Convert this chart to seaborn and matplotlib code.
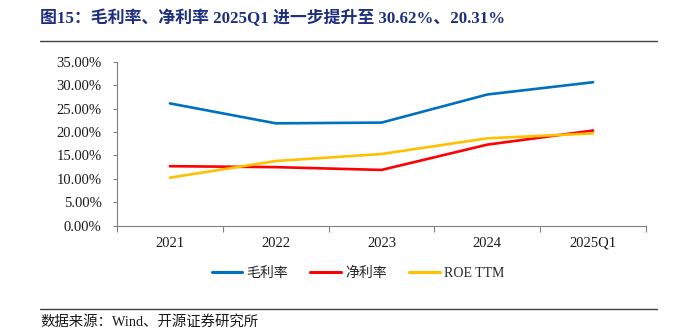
import matplotlib
matplotlib.use("Agg")
import matplotlib.pyplot as plt
import matplotlib.lines as mlines
import seaborn as sns
import pandas as pd
from matplotlib.ticker import FixedLocator, NullFormatter, FuncFormatter

# Data
periods = ["2021", "2022", "2023", "2024", "2025Q1"]
gross_margin = [26.1, 21.85, 22.0, 28.0, 30.62]
net_margin = [12.7, 12.5, 11.9, 17.3, 20.31]
roe_ttm = [10.25, 13.8, 15.3, 18.65, 19.7]
series_names = ["毛利率", "净利率", "ROE TTM"]
series_colors = ["#0070C0", "#FF0000", "#FFC000"]
y_ticks = [0, 5, 10, 15, 20, 25, 30, 35]

title_text = "图15：毛利率、净利率 2025Q1 进一步提升至 30.62%、20.31%"
source_text = "数据来源：Wind、开源证券研究所"

sns.set_theme(style="white")
plt.rcParams["font.family"] = ["Liberation Serif", "Noto Sans CJK SC"]
plt.rcParams["axes.unicode_minus"] = False

df = pd.DataFrame({
    "period": periods * 3,
    "value": gross_margin + net_margin + roe_ttm,
    "series": [series_names[0]] * 5 + [series_names[1]] * 5 + [series_names[2]] * 5,
})

fig = plt.figure(figsize=(6.79, 3.36), dpi=100)
ax = fig.add_axes([117 / 679, 1 - 225.7 / 336, 529 / 679, 164 / 336])

sns.lineplot(data=df, x="period", y="value", hue="series",
             palette=dict(zip(series_names, series_colors)),
             linewidth=1.9, ax=ax, legend=False, sort=False)

ax.set_xlim(-0.5, 4.5)
ax.set_ylim(0, 35)
ax.set_xlabel("")
ax.set_ylabel("")

# Category boundaries carry the tick marks; labels sit between them
ax.xaxis.set_major_locator(FixedLocator([i - 0.5 for i in range(6)]))
ax.xaxis.set_major_formatter(NullFormatter())
ax.xaxis.set_minor_locator(FixedLocator(list(range(5))))
ax.set_xticklabels(periods, minor=True)
ax.tick_params(axis="x", which="major", direction="out", length=4, width=0.8,
               color="#808080", bottom=True)
ax.tick_params(axis="x", which="minor", length=0, pad=8, labelsize=10.5,
               labelcolor="#1a1a1a", bottom=True)

ax.set_yticks(y_ticks)
ax.yaxis.set_major_formatter(FuncFormatter(lambda v, p: f"{v:.2f}%"))
ax.tick_params(axis="y", direction="out", length=3, width=0.8, color="#808080",
               labelsize=10.5, labelcolor="#1a1a1a", left=True, pad=8)

for side in ["top", "right"]:
    ax.spines[side].set_visible(False)
for side in ["left", "bottom"]:
    ax.spines[side].set_color("#808080")
    ax.spines[side].set_linewidth(0.8)
ax.grid(False)

handles = [mlines.Line2D([], [], color=c, lw=2.2) for c in series_colors]
fig.legend(handles, series_names, loc="center", bbox_to_anchor=(358 / 679, 1 - 273 / 336),
           ncol=3, frameon=False, fontsize=10, handlelength=2.2, handletextpad=0.3,
           columnspacing=1.6)

# Title, rules and source note
fig.text(40 / 679, 1 - 18 / 336, title_text, fontsize=12.2, fontweight="bold",
         color="#1F2F7F", va="center", ha="left")
fig.add_artist(mlines.Line2D([40 / 679, 657 / 679], [1 - 41 / 336, 1 - 41 / 336],
                             color="#404040", lw=1.0, transform=fig.transFigure))
fig.add_artist(mlines.Line2D([40 / 679, 657 / 679], [1 - 309 / 336, 1 - 309 / 336],
                             color="#404040", lw=1.0, transform=fig.transFigure))
fig.text(40 / 679, 1 - 322 / 336, source_text, fontsize=10.4, color="#1a1a1a",
         va="center", ha="left")

fig.savefig("out.png", dpi=100)
